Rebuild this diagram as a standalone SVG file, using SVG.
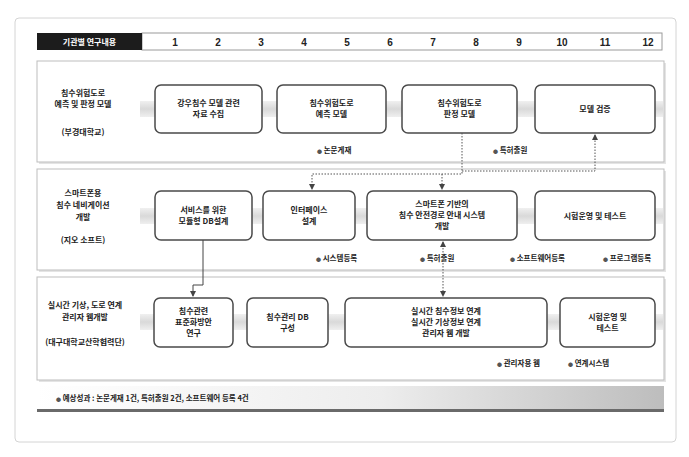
<svg xmlns="http://www.w3.org/2000/svg" width="689" height="457" viewBox="0 0 689 457">
<defs>
<style>
.t{font-family:"Noto Sans CJK KR","Noto Sans",sans-serif;font-size:8px;font-weight:bold;fill:#222;text-anchor:middle}
.lab{font-family:"Noto Sans CJK KR","Noto Sans",sans-serif;font-size:7.5px;font-weight:bold;fill:#222}
.bul{font-size:5px;fill:#555}
.num{font-family:"Liberation Sans",sans-serif;font-size:10px;font-weight:bold;fill:#222;text-anchor:middle}
.panel{fill:#fff;stroke:#bdbdbd;stroke-width:1}
.pshadow{fill:#e4e4e4}
.box{fill:#fff;stroke:#4a4a4a;stroke-width:1.5}
.band{fill:url(#bandg)}
.dot{fill:none;stroke:#555;stroke-width:1;stroke-dasharray:1.5 1.5}
.sol{fill:none;stroke:#444;stroke-width:1}
</style>
<linearGradient id="bandg" x1="0" y1="0" x2="0" y2="1">
<stop offset="0" stop-color="#f0f0f0"/><stop offset="0.5" stop-color="#d9d9d9"/><stop offset="1" stop-color="#efefef"/>
</linearGradient>
<linearGradient id="barg" x1="0" y1="0" x2="1" y2="0">
<stop offset="0" stop-color="#ffffff"/><stop offset="0.55" stop-color="#ededed"/><stop offset="1" stop-color="#bdbdbd"/>
</linearGradient>
<marker id="ah" markerWidth="6" markerHeight="6" refX="5" refY="3" orient="auto" markerUnits="userSpaceOnUse">
<path d="M0,0 L6,3 L0,6 z" fill="#444"/>
</marker>
<marker id="as" markerWidth="6" markerHeight="6" refX="1" refY="3" orient="auto" markerUnits="userSpaceOnUse">
<path d="M6,0 L0,3 L6,6 z" fill="#444"/>
</marker>
</defs>
<rect x="0" y="0" width="689" height="457" fill="#fff"/>
<rect x="15" y="18" width="661" height="424" rx="4" fill="#fff" stroke="#d4d4d4"/>

<g id="header">
<rect x="142" y="33" width="520" height="17" fill="#fff" stroke="#9a9a9a"/>
<rect x="37" y="33" width="105" height="17" fill="#1c1c1c"/>
<text class="t" x="89.5" y="44.5" style="fill:#fff">기관별 연구내용</text>
<text class="num" x="175" y="45.5">1</text>
<text class="num" x="218" y="45.5">2</text>
<text class="num" x="261" y="45.5">3</text>
<text class="num" x="304" y="45.5">4</text>
<text class="num" x="347" y="45.5">5</text>
<text class="num" x="390" y="45.5">6</text>
<text class="num" x="433" y="45.5">7</text>
<text class="num" x="476" y="45.5">8</text>
<text class="num" x="519" y="45.5">9</text>
<text class="num" x="562" y="45.5">10</text>
<text class="num" x="605" y="45.5">11</text>
<text class="num" x="648" y="45.5">12</text>
</g>

<g id="panels">
<rect class="pshadow" x="39" y="63" width="627" height="101"/>
<rect class="panel" x="37" y="61" width="627" height="101"/>
<rect class="pshadow" x="39" y="171" width="627" height="101"/>
<rect class="panel" x="37" y="169" width="627" height="101"/>
<rect class="pshadow" x="39" y="279" width="627" height="103"/>
<rect class="panel" x="37" y="277" width="627" height="103"/>
<rect class="band" x="140" y="101" width="523" height="16"/>
<rect class="band" x="140" y="208" width="523" height="16"/>
<rect class="band" x="140" y="314" width="523" height="16"/>
</g>

<g id="row1-label">
<text class="t" x="83" y="96">침수위험도로</text>
<text class="t" x="83" y="107">예측 및 판정 모델</text>
<text class="t" x="83" y="135">(부경대학교)</text>
</g>
<g id="r1b1"><rect class="box" x="155" y="85" width="107" height="48" rx="6"/>
<text class="t" x="208.5" y="106">강우침수 모델 관련</text><text class="t" x="208.5" y="117">자료 수집</text></g>
<g id="r1b2"><rect class="box" x="277" y="85" width="109" height="48" rx="6"/>
<text class="t" x="331.5" y="106">침수위험도로</text><text class="t" x="331.5" y="117">예측 모델</text></g>
<g id="r1b3"><rect class="box" x="402" y="85" width="115" height="48" rx="6"/>
<text class="t" x="459.5" y="106">침수위험도로</text><text class="t" x="459.5" y="117">판정 모델</text></g>
<g id="r1b4"><rect class="box" x="535" y="85" width="120" height="48" rx="6"/>
<text class="t" x="595" y="112">모델 검증</text></g>
<g id="r1-out">
<text class="lab" x="317" y="153"><tspan class="bul">●</tspan> 논문게재</text>
<text class="lab" x="493" y="153"><tspan class="bul">●</tspan> 특허출원</text>
</g>

<g id="row2-label">
<text class="t" x="83" y="196">스마트폰용</text>
<text class="t" x="83" y="208">침수 네비게이션</text>
<text class="t" x="83" y="220">개발</text>
<text class="t" x="83" y="243">(지오 소프트)</text>
</g>
<g id="r2b1"><rect class="box" x="155" y="191" width="97" height="49" rx="6"/>
<text class="t" x="203.5" y="213">서비스를 위한</text><text class="t" x="203.5" y="224">모듈형 DB설계</text></g>
<g id="r2b2"><rect class="box" x="263" y="191" width="92" height="49" rx="6"/>
<text class="t" x="309" y="213">인터페이스</text><text class="t" x="309" y="224">설계</text></g>
<g id="r2b3"><rect class="box" x="367" y="191" width="150" height="49" rx="6"/>
<text class="t" x="442" y="207">스마트폰 기반의</text><text class="t" x="442" y="218">침수 안전경로 안내 시스템</text><text class="t" x="442" y="229">개발</text></g>
<g id="r2b4"><rect class="box" x="535" y="191" width="120" height="49" rx="6"/>
<text class="t" x="595" y="219">시험운영 및 테스트</text></g>
<g id="r2-out">
<text class="lab" x="316" y="261"><tspan class="bul">●</tspan> 시스템등록</text>
<text class="lab" x="420" y="261"><tspan class="bul">●</tspan> 특허출원</text>
<text class="lab" x="510" y="261"><tspan class="bul">●</tspan> 소프트웨어등록</text>
<text class="lab" x="603" y="261"><tspan class="bul">●</tspan> 프로그램등록</text>
</g>

<g id="row3-label">
<text class="t" x="85" y="308">실시간 기상, 도로 연계</text>
<text class="t" x="85" y="320">관리자 웹개발</text>
<text class="t" x="85" y="345">(대구대학교산학협력단)</text>
</g>
<g id="r3b1"><rect class="box" x="154" y="298" width="79" height="49" rx="6"/>
<text class="t" x="193.5" y="314">침수관련</text><text class="t" x="193.5" y="325">표준화방안</text><text class="t" x="193.5" y="336">연구</text></g>
<g id="r3b2"><rect class="box" x="247" y="298" width="81" height="49" rx="6"/>
<text class="t" x="287.5" y="320">침수관리 DB</text><text class="t" x="287.5" y="331">구성</text></g>
<g id="r3b3"><rect class="box" x="345" y="298" width="202" height="49" rx="6"/>
<text class="t" x="446" y="314">실시간 침수정보 연계</text><text class="t" x="446" y="325">실시간 기상정보 연계</text><text class="t" x="446" y="336">관리자 웹 개발</text></g>
<g id="r3b4"><rect class="box" x="560" y="298" width="95" height="49" rx="6"/>
<text class="t" x="607.5" y="320">시험운영 및</text><text class="t" x="607.5" y="331">테스트</text></g>
<g id="r3-out">
<text class="lab" x="497" y="366"><tspan class="bul">●</tspan> 관리자용 웹</text>
<text class="lab" x="568" y="366"><tspan class="bul">●</tspan> 연계시스템</text>
</g>

<g id="connectors">
<path class="dot" d="M462,133 V174 H312 V189" marker-end="url(#ah)"/>
<path class="dot" d="M442,174 V189" marker-end="url(#ah)"/>
<path class="dot" d="M462,171 H595 V135" marker-end="url(#ah)"/>
<path class="dot" d="M443,242 V296" marker-start="url(#as)" marker-end="url(#ah)"/>
<path class="sol" d="M203,240 V285 H193 V296" marker-end="url(#ah)"/>
</g>

<g id="summary">
<rect x="37" y="386" width="627" height="24" fill="url(#barg)"/>
<rect x="37" y="409" width="627" height="3" fill="#6a6a6a"/>
<text class="lab" x="56" y="401"><tspan class="bul">●</tspan> 예상성과 : 논문게재 1건, 특허출원 2건, 소프트웨어 등록 4건</text>
</g>
</svg>
